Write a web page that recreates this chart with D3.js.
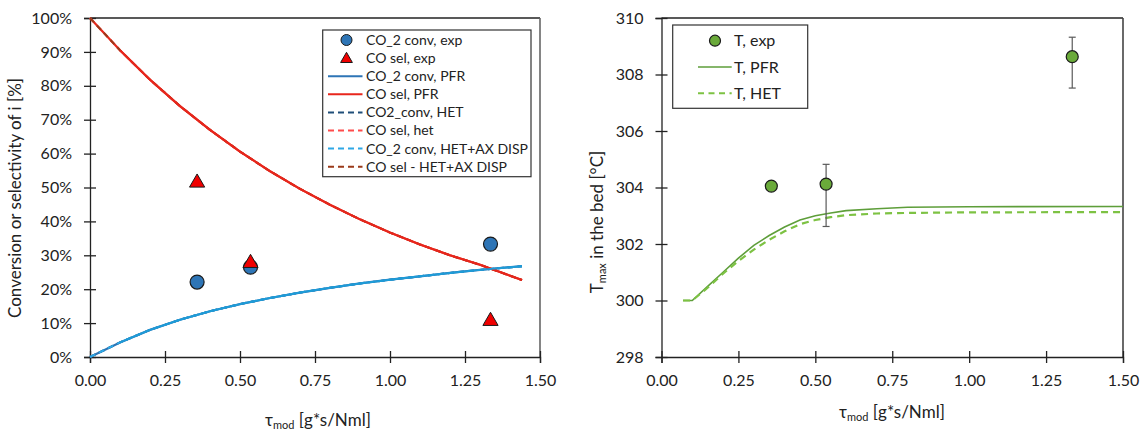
<!DOCTYPE html>
<html><head><meta charset="utf-8">
<script src="https://cdn.jsdelivr.net/npm/d3@7"></script>
<style>body{margin:0;background:#fff;} text{font-family:Lato,"Noto Sans",sans-serif;fill:#222;}</style>
</head><body>
<svg id="c" width="1142" height="432"></svg>
<script>
// ---------- Left chart data ----------
const expTau = [0.357, 0.535, 1.335];
const co2ConvExp = [0.221, 0.265, 0.333];
const coSelExp = [0.517, 0.28, 0.109];
const modelTau = [0, 0.1, 0.2, 0.3, 0.4, 0.5, 0.6, 0.7, 0.8, 0.9, 1.0, 1.1, 1.2, 1.3, 1.44];
const co2ConvPFR = [0, 0.043, 0.080, 0.110, 0.135, 0.156, 0.174, 0.190, 0.204, 0.217, 0.228, 0.238, 0.248, 0.257, 0.268];
const coSelPFR = [1.0, 0.905, 0.818, 0.740, 0.670, 0.606, 0.548, 0.496, 0.449, 0.406, 0.367, 0.332, 0.300, 0.272, 0.227];
const co2ConvHET = [0, 0.043, 0.080, 0.110, 0.135, 0.156, 0.174, 0.190, 0.204, 0.217, 0.228, 0.238, 0.248, 0.257, 0.268];
const coSelHET = [1.0, 0.905, 0.818, 0.740, 0.670, 0.606, 0.548, 0.496, 0.449, 0.406, 0.367, 0.332, 0.300, 0.272, 0.227];
const co2ConvAX = [0, 0.043, 0.080, 0.110, 0.135, 0.156, 0.174, 0.190, 0.204, 0.217, 0.228, 0.238, 0.248, 0.257, 0.268];
const coSelAX = [1.0, 0.905, 0.818, 0.740, 0.670, 0.606, 0.548, 0.496, 0.449, 0.406, 0.367, 0.332, 0.300, 0.272, 0.227];
const leftXTicks = [0, 0.25, 0.5, 0.75, 1.0, 1.25, 1.5];
const leftYTicks = [0, 0.1, 0.2, 0.3, 0.4, 0.5, 0.6, 0.7, 0.8, 0.9, 1.0];

// ---------- Right chart data ----------
const tExpTau = [0.357, 0.535, 1.335];
const tExp = [304.05, 304.12, 308.63];
const tExpHi = [304.05, 304.82, 309.32];
const tExpLo = [304.05, 302.62, 307.52];
const tModelTau = [0.07, 0.1, 0.15, 0.2, 0.25, 0.3, 0.35, 0.4, 0.45, 0.5, 0.55, 0.6, 0.7, 0.8, 1.0, 1.5];
const tPFR = [300.0, 300.0, 300.5, 301.0, 301.5, 301.95, 302.3, 302.6, 302.85, 303.0, 303.1, 303.18, 303.25, 303.3, 303.32, 303.33];
const tHET = [300.0, 300.0, 300.45, 300.95, 301.4, 301.8, 302.15, 302.45, 302.7, 302.85, 302.95, 303.02, 303.08, 303.1, 303.12, 303.13];
const rightXTicks = [0, 0.25, 0.5, 0.75, 1.0, 1.25, 1.5];
const rightYTicks = [298, 300, 302, 304, 306, 308, 310];

const svg = d3.select("#c");
const FS = 16;
const TS = 17;

function frame(g, x, y, xt, yt, yfmt, rightColor) {
  const [x0, x1] = x.range(); const [y0, y1] = y.range();
  g.append("line").attr("x1", x0).attr("x2", x1).attr("y1", y1).attr("y2", y1).attr("stroke", "#222").attr("stroke-width", 1.3);
  g.append("line").attr("x1", x1).attr("x2", x1).attr("y1", y1).attr("y2", y0).attr("stroke", rightColor).attr("stroke-width", 1.6);
  const ax = g.append("g").attr("transform", `translate(0,${y0})`)
    .call(d3.axisBottom(x).tickValues(xt).tickFormat(d3.format(".2f")).tickSizeOuter(0).tickSize(6).tickPadding(12));
  ax.selectAll(".tick line").attr("y1", -6).attr("y2", 6);
  const ay = g.append("g").attr("transform", `translate(${x0},0)`)
    .call(d3.axisLeft(y).tickValues(yt).tickFormat(yfmt).tickSizeOuter(0).tickSize(6).tickPadding(12));
  ay.selectAll(".tick line").attr("x1", -6).attr("x2", 6);
  [ax, ay].forEach(a => {
    a.selectAll("path,line").attr("stroke", "#222").attr("stroke-width", 1.3);
    a.selectAll("text").attr("font-size", FS).attr("fill", "#222").style("font-family", "Lato");
  });
}

// ================= LEFT =================
const xL = d3.scaleLinear().domain([0, 1.5]).range([90, 540]);
const yL = d3.scaleLinear().domain([0, 1]).range([357, 18]);
const gL = svg.append("g");
frame(gL, xL, yL, leftXTicks, leftYTicks, d3.format(".0%"), "#666");

const lineL = vals => d3.line().x((d, i) => xL(modelTau[i])).y(d => yL(d))(vals);
const leftSeries = [
  {vals: co2ConvPFR, color: "#2E75B6", dash: null, w: 2.2},
  {vals: coSelPFR, color: "#E8261C", dash: null, w: 2.2},
  {vals: co2ConvHET, color: "#1F4E79", dash: "6,4", w: 2},
  {vals: coSelHET, color: "#FF4B4B", dash: "6,4", w: 2},
  {vals: co2ConvAX, color: "#2EA8E6", dash: "6,4", w: 2},
  {vals: coSelAX, color: "#9A3A1A", dash: "6,4", w: 2},
];
leftSeries.forEach(s => {
  gL.append("path").attr("d", lineL(s.vals)).attr("fill", "none").attr("stroke", s.color)
    .attr("stroke-width", s.w).attr("stroke-dasharray", s.dash);
});
gL.append("path").attr("d", d3.line().x((d, i) => xL(modelTau[i + 1])).y(d => yL(d))(coSelHET.slice(1)))
  .attr("fill", "none").attr("stroke", "#E8261C").attr("stroke-width", 2);
gL.append("path").attr("d", d3.line().x((d, i) => xL(modelTau[i + 1])).y(d => yL(d))(co2ConvAX.slice(1)))
  .attr("fill", "none").attr("stroke", "#1E9BD7").attr("stroke-width", 2);

const tri = d3.symbol().type(d3.symbolTriangle).size(100);
expTau.forEach((t, i) => {
  gL.append("circle").attr("cx", xL(t)).attr("cy", yL(co2ConvExp[i])).attr("r", 7)
    .attr("fill", "#2E75B6").attr("stroke", "#1a1a1a").attr("stroke-width", 1.2);
});
expTau.forEach((t, i) => {
  gL.append("path").attr("d", tri).attr("transform", `translate(${xL(t)},${yL(coSelExp[i]) + 1})`)
    .attr("fill", "#F00000").attr("stroke", "#1a1a1a").attr("stroke-width", 1);
});

// left legend
const legL = gL.append("g");
legL.append("rect").attr("x", 322.7).attr("y", 30).attr("width", 208.3).attr("height", 146.7)
  .attr("fill", "#fff").attr("stroke", "#333").attr("stroke-width", 1.2);
const legItemsL = [
  {label: "CO_2 conv, exp", type: "circle", color: "#2E75B6"},
  {label: "CO sel, exp", type: "tri", color: "#F00000"},
  {label: "CO_2 conv, PFR", type: "line", color: "#2E75B6"},
  {label: "CO sel, PFR", type: "line", color: "#E8261C"},
  {label: "CO2_conv, HET", type: "dash", color: "#1F4E79"},
  {label: "CO sel, het", type: "dash", color: "#FF4B4B"},
  {label: "CO_2 conv, HET+AX DISP", type: "dash", color: "#2EA8E6"},
  {label: "CO sel - HET+AX DISP", type: "dash", color: "#9A3A1A"},
];
legItemsL.forEach((d, i) => {
  const cy = 40 + i * 18.1;
  if (d.type === "circle") legL.append("circle").attr("cx", 346.5).attr("cy", cy).attr("r", 5.5).attr("fill", d.color).attr("stroke", "#1a1a1a").attr("stroke-width", 1);
  else if (d.type === "tri") legL.append("path").attr("d", d3.symbol().type(d3.symbolTriangle).size(60)).attr("transform", `translate(346.5,${cy + 1})`).attr("fill", d.color).attr("stroke", "#1a1a1a").attr("stroke-width", 1);
  else legL.append("line").attr("x1", 328).attr("x2", 362.5).attr("y1", cy).attr("y2", cy).attr("stroke", d.color).attr("stroke-width", 2).attr("stroke-dasharray", d.type === "dash" ? "6,4" : null);
  legL.append("text").attr("x", 366).attr("y", cy).attr("dy", "0.35em").attr("font-size", 14).text(d.label);
});

// left axis titles
gL.append("text").attr("transform", "translate(21,198) rotate(-90)").attr("text-anchor", "middle")
  .attr("font-size", TS).text("Conversion or selectivity of i [%]");
const xtL = gL.append("text").attr("x", 318).attr("y", 426).attr("text-anchor", "middle").attr("font-size", TS);
xtL.append("tspan").text("τ");
xtL.append("tspan").attr("font-size", 11).attr("dy", 3).text("mod");
xtL.append("tspan").attr("dy", -3).text(" [g*s/Nml]");

// ================= RIGHT =================
const xR = d3.scaleLinear().domain([0, 1.5]).range([661.5, 1123]);
const yR = d3.scaleLinear().domain([298, 310]).range([357, 18]);
const gR = svg.append("g");
frame(gR, xR, yR, rightXTicks, rightYTicks, d3.format("d"), "#444");

const lineR = vals => d3.line().x((d, i) => xR(tModelTau[i])).y(d => yR(d))(vals);
gR.append("path").attr("d", lineR(tPFR)).attr("fill", "none").attr("stroke", "#5E9E3A").attr("stroke-width", 1.6);
gR.append("path").attr("d", lineR(tHET)).attr("fill", "none").attr("stroke", "#7DC243").attr("stroke-width", 2.2).attr("stroke-dasharray", "7,5");

tExpTau.forEach((t, i) => {
  if (tExpHi[i] !== tExpLo[i]) {
    const x = xR(t);
    gR.append("line").attr("x1", x).attr("x2", x).attr("y1", yR(tExpHi[i])).attr("y2", yR(tExpLo[i])).attr("stroke", "#595959").attr("stroke-width", 1.2);
    [tExpHi[i], tExpLo[i]].forEach(v => gR.append("line").attr("x1", x - 3.5).attr("x2", x + 3.5).attr("y1", yR(v)).attr("y2", yR(v)).attr("stroke", "#595959").attr("stroke-width", 1.2));
  }
  gR.append("circle").attr("cx", xR(t)).attr("cy", yR(tExp[i])).attr("r", 6)
    .attr("fill", "#6AAA3A").attr("stroke", "#1a1a1a").attr("stroke-width", 1.2);
});

// right legend
const legR = gR.append("g");
legR.append("rect").attr("x", 672.7).attr("y", 25).attr("width", 135).attr("height", 83.3)
  .attr("fill", "#fff").attr("stroke", "#333").attr("stroke-width", 1.2);
const legItemsR = [
  {label: "T, exp", type: "circle"},
  {label: "T, PFR", type: "line"},
  {label: "T, HET", type: "dash"},
];
legItemsR.forEach((d, i) => {
  const cy = 40.7 + i * 26.3;
  if (d.type === "circle") legR.append("circle").attr("cx", 715).attr("cy", cy).attr("r", 5.5).attr("fill", "#6AAA3A").attr("stroke", "#1a1a1a").attr("stroke-width", 1.2);
  else if (d.type === "line") legR.append("line").attr("x1", 698).attr("x2", 731.7).attr("y1", cy).attr("y2", cy).attr("stroke", "#5E9E3A").attr("stroke-width", 1.6);
  else legR.append("line").attr("x1", 698).attr("x2", 731.7).attr("y1", cy).attr("y2", cy).attr("stroke", "#7DC243").attr("stroke-width", 2).attr("stroke-dasharray", "6,4.5");
  legR.append("text").attr("x", 734).attr("y", cy).attr("dy", "0.35em").attr("font-size", 16).text(d.label);
});

const ytR = gR.append("text").attr("transform", "translate(603,222) rotate(-90)").attr("text-anchor", "middle").attr("font-size", TS);
ytR.append("tspan").text("T");
ytR.append("tspan").attr("font-size", 11).attr("dy", 3).text("max");
ytR.append("tspan").attr("dy", -3).text(" in the bed [°C]");
const xtR = gR.append("text").attr("x", 892).attr("y", 418).attr("text-anchor", "middle").attr("font-size", TS);
xtR.append("tspan").text("τ");
xtR.append("tspan").attr("font-size", 11).attr("dy", 3).text("mod");
xtR.append("tspan").attr("dy", -3).text(" [g*s/Nml]");
</script>
</body></html>
